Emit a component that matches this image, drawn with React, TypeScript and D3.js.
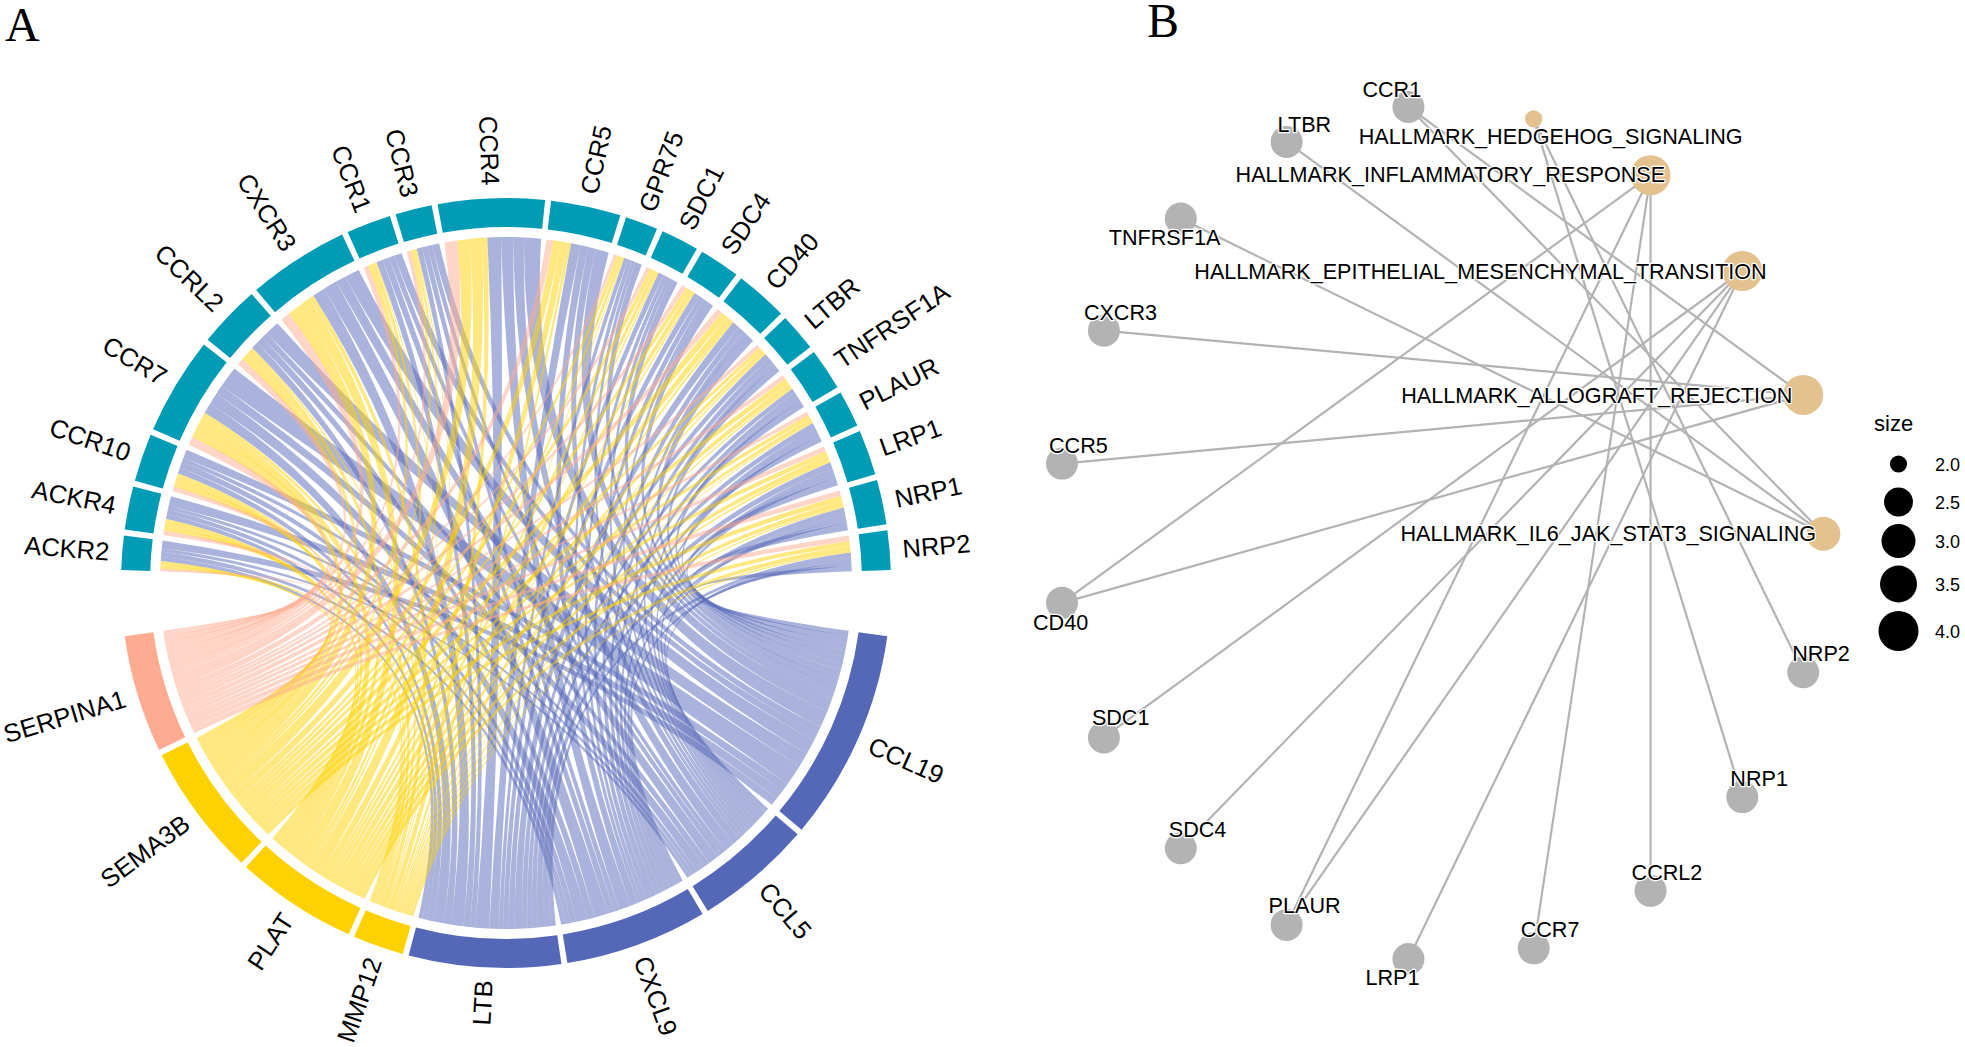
import React from 'react';
import * as d3 from 'd3';

// ligand -> receptor weights, panel A
const receptors = ['ACKR2', 'ACKR4', 'CCR10', 'CCR7', 'CCRL2', 'CXCR3', 'CCR1', 'CCR3', 'CCR4', 'CCR5', 'GPR75', 'SDC1', 'SDC4', 'CD40', 'LTBR', 'TNFRSF1A', 'PLAUR', 'LRP1', 'NRP1', 'NRP2'];
const ligands = ['CCL19', 'CCL5', 'CXCL9', 'LTB', 'MMP12', 'PLAT', 'SEMA3B', 'SERPINA1'];
const ligandColors = ['#5568B8', '#5568B8', '#5568B8', '#5568B8', '#FFD100', '#FFD100', '#FFD100', '#FFAB91'];

const ccl19 = [1.3, 1.6, 1.4, 3.6, 2.4, 2.5, 1.3, 1.2, 2.8, 2.2, 1.1, 1.2, 1.2, 1.5, 1.1, 1.2, 1.0, 1.3, 1.2, 0.9];
const ccl5 = [0.6, 0.6, 0.7, 1.5, 1.0, 1.7, 0.9, 0.8, 1.8, 1.3, 0.6, 0.7, 0.6, 0.7, 0.7, 0.7, 0.7, 0.8, 0.7, 0.6];
const cxcl9 = [0.8, 0.8, 1.0, 1.9, 1.2, 2.3, 1.1, 0.9, 2.0, 1.3, 0.7, 0.7, 0.9, 1.0, 0.9, 0.9, 0.8, 0.8, 0.8, 0.8];
const ltb = [0.7, 0.8, 1.0, 1.8, 1.2, 2.1, 1.1, 0.9, 2.3, 1.6, 0.7, 0.9, 1.0, 1.3, 0.9, 0.8, 0.9, 1.1, 1.1, 0.8];
const mmp12 = [0.2, 0.4, 0.4, 0.7, 0.4, 0.8, 0.2, 0.2, 0.9, 0.5, 0.2, 0.3, 0.3, 0.4, 0.3, 0.3, 0.2, 0.4, 0.3, 0.3];
const plat = [0.5, 0.8, 0.9, 1.8, 1.0, 2.0, 0.6, 0.4, 2.0, 1.2, 0.5, 0.6, 0.7, 1.0, 0.6, 0.8, 0.6, 0.8, 0.8, 0.8];
const sema3b = [0.6, 0.8, 1.0, 2.0, 1.1, 2.2, 0.7, 0.5, 2.1, 1.3, 0.6, 0.7, 0.7, 1.1, 0.6, 0.9, 0.7, 0.8, 0.9, 0.8];
const serpina1 = [0.4, 0.7, 0.8, 1.4, 1.1, 1.6, 0.8, 0.6, 2.1, 1.1, 0.5, 0.6, 0.7, 0.9, 0.6, 0.7, 0.6, 0.8, 0.9, 0.9];
const weights = [ccl19, ccl5, cxcl9, ltb, mmp12, plat, sema3b, serpina1];

// panel B, circular layout units
const geneNames = ['CCR1', 'LTBR', 'TNFRSF1A', 'CXCR3', 'CCR5', 'CD40', 'SDC1', 'SDC4', 'PLAUR', 'LRP1', 'CCR7', 'CCRL2', 'NRP1', 'NRP2'];
const geneX = [-0.09, -0.41, -0.688, -0.89, -1.0, -1.0, -0.89, -0.688, -0.41, -0.09, 0.239, 0.546, 0.787, 0.947];
const geneY = [1.0, 0.918, 0.738, 0.475, 0.163, -0.164, -0.48, -0.74, -0.92, -1.0, -0.975, -0.84, -0.62, -0.327];
const geneLabelOffset = [[-46, -10], [-9, -10], [-72, 26], [-20, -11], [-13, -11], [-29, 27], [-12, -12], [-12, -11], [-18, -12], [-43, 26], [-13, -11], [-19, -11], [-12, -11], [-11, -11]];

const termNames = ['HALLMARK_HEDGEHOG_SIGNALING', 'HALLMARK_INFLAMMATORY_RESPONSE', 'HALLMARK_EPITHELIAL_MESENCHYMAL_TRANSITION', 'HALLMARK_ALLOGRAFT_REJECTION', 'HALLMARK_IL6_JAK_STAT3_SIGNALING'];
const termX = [0.239, 0.546, 0.787, 0.947, 1.0];
const termY = [0.972, 0.84, 0.615, 0.324, -0.002];
const termSize = [2, 4, 4, 4, 3];
const termLabelOffset = [[-175, 25], [-415, 7], [-548, 8], [-402, 8], [-423, 7]];
const termGenes = [
  ['NRP1', 'NRP2'],
  ['CD40', 'PLAUR', 'CCR7', 'CCRL2'],
  ['SDC1', 'SDC4', 'PLAUR', 'LRP1'],
  ['CXCR3', 'CCR5', 'CD40', 'CCR1'],
  ['TNFRSF1A', 'LTBR', 'CCR1'],
];

const legendSizes = [2.0, 2.5, 3.0, 3.5, 4.0];
const legendRadius = [8.6, 14.5, 17, 18.5, 20];

const TEAL = '#009BB4';
const GREY = '#B3B3B3';
const TAN = '#E3C28F';
const FONT = '"Liberation Sans", Arial, sans-serif';

const rad = (deg: number) => (deg * Math.PI) / 180;

const LINK_R = 346;
const point = (deg: number, r: number): [number, number] => [r * Math.sin(rad(deg)), -r * Math.cos(rad(deg))];

// quadratic edge: the control point sits on the line from the centre to the chord's middle,
// so nearly opposite ends stay almost straight and never bulge to one side
const edge = (p: d3.Path, from: number, to: number) => {
  const [x0, y0] = point(from, LINK_R);
  const [x1, y1] = point(to, LINK_R);
  const k = 0.08;
  p.quadraticCurveTo(((x0 + x1) / 2) * k, ((y0 + y1) / 2) * k, x1, y1);
};

const linkPath = (a0: number, a1: number, b0: number, b1: number) => {
  const p = d3.path();
  const [x, y] = point(a0, LINK_R);
  p.moveTo(x, y);
  p.arc(0, 0, LINK_R, rad(a0 - 90), rad(a1 - 90));
  edge(p, a1, b0);
  p.arc(0, 0, LINK_R, rad(b0 - 90), rad(b1 - 90));
  edge(p, b1, a0);
  p.closePath();
  return p.toString();
};

const Chord = () => {
  const cx = 506;
  const cy = 583;
  const gap = 0.9;
  const recTotals = receptors.map((_, j) => d3.sum(weights, row => row[j]));
  const ligTotals = weights.map(row => d3.sum(row));
  const total = d3.sum(ligTotals);
  const recSpan = d3.scaleLinear().domain([0, total]).range([0, 159]);
  const ligSpan = d3.scaleLinear().domain([0, total]).range([0, 157.8]);

  // sectors run clockwise, the receptors centred on 12 o'clock, ligands on 6
  const recFull = 159 + gap * (receptors.length - 1);
  const ligFull = 157.8 + gap * (ligands.length - 1);
  let a = -recFull / 2;
  const recSectors = recTotals.map((t, i) => {
    const s = { name: receptors[i], start: a, end: a + recSpan(t), color: TEAL };
    a += recSpan(t) + gap;
    return s;
  });
  a = 180 - ligFull / 2;
  const ligSectors = ligTotals.map((t, i) => {
    const s = { name: ligands[i], start: a, end: a + ligSpan(t), color: ligandColors[i] };
    a += ligSpan(t) + gap;
    return s;
  });

  // links do not twist: walking clockwise over a receptor the ligands go last to first,
  // over a ligand the receptors go last to first
  const recCursor = recSectors.map(s => s.start);
  const ligCursor = ligSectors.map(s => s.start);
  const recSlots: number[][] = ligands.map(() => []);
  const ligSlots: number[][] = ligands.map(() => []);
  receptors.forEach((_, j) => {
    for (let i = ligands.length - 1; i >= 0; i--) {
      recSlots[i][j] = recCursor[j];
      recCursor[j] += recSpan(weights[i][j]);
    }
  });
  ligands.forEach((_, i) => {
    for (let j = receptors.length - 1; j >= 0; j--) {
      ligSlots[i][j] = ligCursor[i];
      ligCursor[i] += ligSpan(weights[i][j]);
    }
  });

  const arc = d3.arc<any>().innerRadius(356).outerRadius(385);
  const all = [...recSectors, ...ligSectors];

  return (
    <g transform={`translate(${cx},${cy})`}>
      {weights.map((row, i) =>
        row.map((v, j) => (
          <path
            key={`${i}-${j}`}
            d={linkPath(ligSlots[i][j], ligSlots[i][j] + ligSpan(v), recSlots[i][j], recSlots[i][j] + recSpan(v))}
            fill={ligandColors[i]}
            fillOpacity={0.5}
          />
        ))
      )}
      {all.map(s => (
        <path key={s.name} d={arc({ startAngle: rad(s.start), endAngle: rad(s.end) }) as string} fill={s.color} />
      ))}
      {all.map(s => {
        const mid = (((s.start + s.end) / 2) % 360 + 360) % 360;
        const right = mid < 180;
        return (
          <text
            key={s.name}
            transform={`rotate(${mid - 90}) translate(398,0) rotate(${right ? 0 : 180})`}
            textAnchor={right ? 'start' : 'end'}
            dy="0.35em"
            fontFamily={FONT}
            fontSize={25.5}
          >
            {s.name}
          </text>
        );
      })}
    </g>
  );
};

const Network = () => {
  const x = d3.scaleLinear().domain([-1, 1]).range([1062, 1823.4]);
  const y = d3.scaleLinear().domain([-1, 1]).range([959, 107]);
  const r = d3.scaleLinear().domain(legendSizes).range(legendRadius);
  const halo = { paintOrder: 'stroke', stroke: 'white', strokeWidth: 2.5, strokeLinejoin: 'round' } as React.CSSProperties;

  return (
    <g fontFamily={FONT}>
      {termNames.map((t, i) =>
        termGenes[i].map(g => {
          const k = geneNames.indexOf(g);
          return (
            <line key={t + g} x1={x(termX[i])} y1={y(termY[i])} x2={x(geneX[k])} y2={y(geneY[k])} stroke={GREY} strokeWidth={2.2} />
          );
        })
      )}
      {geneNames.map((g, i) => (
        <circle key={g} cx={x(geneX[i])} cy={y(geneY[i])} r={16} fill={GREY} />
      ))}
      {termNames.map((t, i) => (
        <circle key={t} cx={x(termX[i])} cy={y(termY[i])} r={r(termSize[i])} fill={TAN} />
      ))}
      {geneNames.map((g, i) => (
        <text key={g} x={x(geneX[i]) + geneLabelOffset[i][0]} y={y(geneY[i]) + geneLabelOffset[i][1]} fontSize={21.6} style={halo}>
          {g}
        </text>
      ))}
      {termNames.map((t, i) => (
        <text key={t} x={x(termX[i]) + termLabelOffset[i][0]} y={y(termY[i]) + termLabelOffset[i][1]} fontSize={21.6} style={halo}>
          {t}
        </text>
      ))}
      <text x={1874} y={431} fontSize={22}>size</text>
      {legendSizes.map((s, i) => {
        const ly = [464, 502, 541, 584, 631][i];
        return (
          <g key={s}>
            <circle cx={1898.5} cy={ly} r={r(s)} fill="black" />
            <text x={1935} y={ly + 7} fontSize={18}>{s.toFixed(1)}</text>
          </g>
        );
      })}
    </g>
  );
};

export default function App() {
  return (
    <svg width={1965} height={1047} style={{ position: 'absolute', left: 0, top: 0, background: 'white' }}>
      <text x={5} y={41} fontFamily='"Liberation Serif", serif' fontSize={48}>A</text>
      <text x={1147} y={37} fontFamily='"Liberation Serif", serif' fontSize={48}>B</text>
      <Chord />
      <Network />
    </svg>
  );
}
